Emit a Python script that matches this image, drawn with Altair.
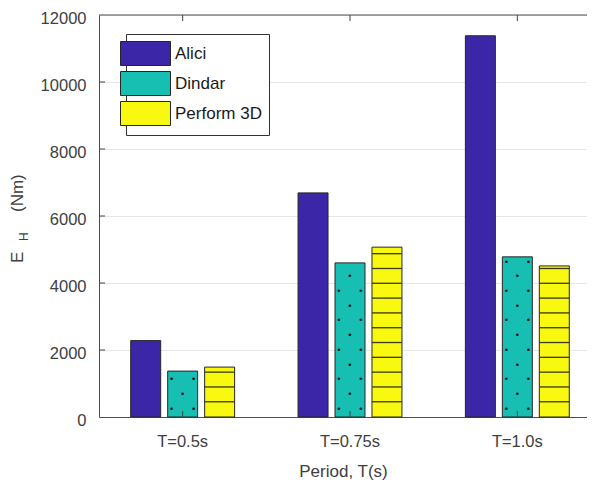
import altair as alt
import pandas as pd

# ---- data ----
categories = ["T=0.5s", "T=0.75s", "T=1.0s"]
series = ["Alici", "Dindar", "Perform 3D"]
alici = [2280, 6690, 11380]
dindar = [1370, 4600, 4780]
perform = [1490, 5070, 4510]
y_ticks = [0, 2000, 4000, 6000, 8000, 10000, 12000]
colors = ["#3c26a8", "#17bfb3", "#f8f810"]

FONT = "Liberation Sans, Arial, sans-serif"
TXT = "#404040"
FRAME = "#4d4d4d"

rows = []
for s, vals in zip(series, [alici, dindar, perform]):
    for c, v in zip(categories, vals):
        rows.append({"category": c, "series": s, "value": v})
bars_df = pd.DataFrame(rows)

# hatch pattern (horizontal lines) for Perform 3D bars
hatch = []
for c, v in zip(categories, perform):
    lvl = 455
    while lvl < v - 30:
        hatch.append({"category": c, "series": "Perform 3D", "value": lvl})
        lvl += 442
hatch_df = pd.DataFrame(hatch)

# dot pattern for Dindar bars
dots = []
for c, v in zip(categories, dindar):
    lvl = 248
    while lvl < v - 80:
        dots.append({"category": c, "series": "Dindar", "value": lvl, "pos": "L"})
        dots.append({"category": c, "series": "Dindar", "value": lvl, "pos": "R"})
        lvl += 878
    lvl = 687
    while lvl < v - 80:
        dots.append({"category": c, "series": "Dindar", "value": lvl, "pos": "M"})
        lvl += 878
dots_df = pd.DataFrame(dots)

cat_df = pd.DataFrame({"category": categories})
ytick_df = pd.DataFrame({"value": y_ticks[1:-1]})

X = alt.X(
    "category:N",
    sort=categories,
    scale=alt.Scale(domain=categories, paddingInner=0, paddingOuter=0, range=[0, 502]),
    axis=alt.Axis(
        title="Period, T(s)", labelAngle=0, ticks=False,
        domain=True, domainColor=FRAME, domainWidth=1,
        labelFontSize=16.5, labelFont=FONT, labelColor=TXT, labelPadding=16,
        titleFontSize=17, titleFont=FONT, titleColor=TXT, titleFontWeight="normal",
        titlePadding=13.5, titleX=244, titleAlign="center",
    ),
)
XO = alt.XOffset(
    "series:N",
    scale=alt.Scale(domain=series, paddingInner=0.189, paddingOuter=0.858),
)
Y = alt.Y(
    "value:Q",
    scale=alt.Scale(domain=[0, 12000], nice=False),
    axis=alt.Axis(
        title=None, values=y_ticks, format="d", ticks=False,
        domain=True, domainColor=FRAME, domainWidth=1,
        grid=True, gridColor="#e6e6e6", gridWidth=1,
        labelFontSize=16.5, labelFont=FONT, labelColor=TXT, labelPadding=13,
        labelOffset=3,
    ),
)

bars = alt.Chart(bars_df).mark_bar(stroke="#262626", strokeWidth=1).encode(
    x=X, xOffset=XO, y=Y,
    color=alt.Color(
        "series:N",
        scale=alt.Scale(domain=series, range=colors),
        legend=alt.Legend(
            title=None, orient="none", legendX=27, legendY=19,
            symbolType="M-2.083,-1H2.083V1H-2.083Z", symbolSize=576,
            symbolStrokeColor="#262626", symbolStrokeWidth=1, symbolOpacity=1,
            labelFont=FONT, labelFontSize=17, labelColor="#1a1a1a", labelOffset=17,
            strokeColor="#333333", fillColor="white", padding=7, rowPadding=1,
        ),
    ),
)

hatch_layer = alt.Chart(hatch_df).mark_tick(
    size=30, thickness=1.3, color="#3a3a14", opacity=1, orient="horizontal"
).encode(x=X, xOffset=XO, y=Y)

dot_layers = []
for p, dx in [("L", -11), ("M", 0), ("R", 11)]:
    dot_layers.append(
        alt.Chart(dots_df).transform_filter(alt.datum.pos == p).mark_text(
            text="\u2022", fontSize=9, dx=dx, color="#111111", baseline="middle", font="DejaVu Sans"
        ).encode(x=X, xOffset=XO, y=Y)
    )

ytick_layer = alt.Chart(ytick_df).mark_rule(color="#444444", strokeWidth=1).encode(
    y=Y, x=alt.value(0), x2=alt.value(6)
)
xtick_bottom = alt.Chart(cat_df).mark_rule(color="#444444", strokeWidth=1).encode(
    x=X, y=alt.value(402), y2=alt.value(396)
)
xtick_top = alt.Chart(cat_df).mark_rule(color="#444444", strokeWidth=1).encode(
    x=X, y=alt.value(0), y2=alt.value(6)
)
top_border = alt.Chart(pd.DataFrame({"b": [0]})).mark_rule(color=FRAME, strokeWidth=1).encode(
    x=alt.value(0), x2=alt.value(520), y=alt.value(0)
)

title_e = alt.Chart(pd.DataFrame({"t": ["E"]})).mark_text(
    angle=270, align="left", baseline="alphabetic", fontSize=17, font=FONT, color=TXT
).encode(text="t:N", x=alt.value(-76), y=alt.value(248))
title_h = alt.Chart(pd.DataFrame({"t": ["H"]})).mark_text(
    angle=270, align="left", baseline="alphabetic", fontSize=12, font=FONT, color=TXT
).encode(text="t:N", x=alt.value(-71), y=alt.value(226))
title_nm = alt.Chart(pd.DataFrame({"t": ["(Nm)"]})).mark_text(
    angle=270, align="left", baseline="alphabetic", fontSize=17, font=FONT, color=TXT
).encode(text="t:N", x=alt.value(-76), y=alt.value(197))

chart = alt.layer(
    bars, hatch_layer, *dot_layers, ytick_layer, xtick_bottom, xtick_top, top_border,
    title_e, title_h, title_nm,
).properties(
    width=488, height=402,
    padding={"left": 91, "top": 7, "right": 0, "bottom": 64},
    autosize=alt.AutoSizeParams(type="none"),
).configure_view(stroke=None).configure(background="white")

chart.save("out.html", embed_options={"renderer": "svg", "actions": False})
